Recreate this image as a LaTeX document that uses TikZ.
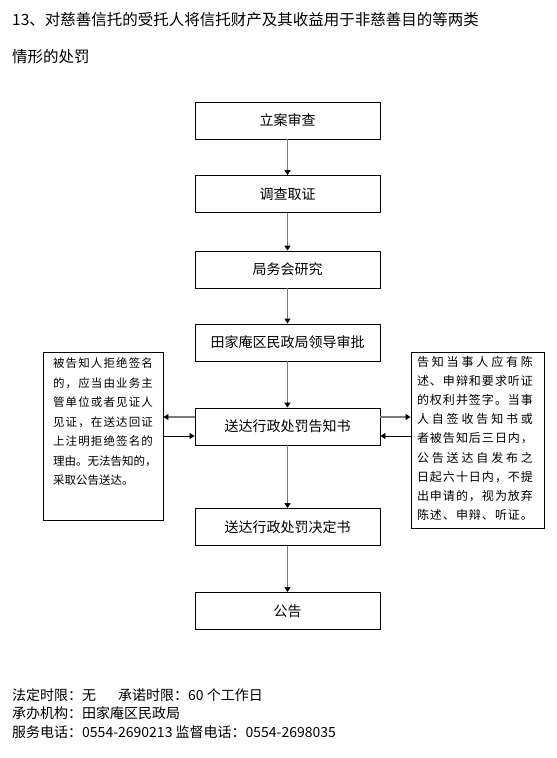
\documentclass[tikz,border=0pt]{standalone}
\usepackage{fontspec}
\newfontfamily\cjk{Noto Sans CJK SC}
\usetikzlibrary{arrows.meta}
\makeatletter
\newcommand\jline[2]{\makebox[#1][s]{\jl@a#2\@nil}}
\def\jl@a#1#2\@nil{#1\ifx\relax#2\relax\else\hfil\jl@a#2\@nil\fi}
\makeatother
\tikzset{
  mainbox/.style={draw=black, line width=0.9pt, minimum width=185pt, minimum height=37pt, inner sep=0pt,
    font=\cjk\fontsize{14}{17}\selectfont},
  sidebox/.style={draw=black, line width=0.9pt, inner sep=0pt},
  sidetext/.style={inner sep=0pt, align=left, anchor=north},
  plain/.style={inner sep=0pt, anchor=west, font=\cjk\fontsize{14}{17}\selectfont},
  garrow/.style={draw=gray!95!black, line width=1.6pt, -{Triangle[length=5pt,width=6pt,color=black]}},
  barrow/.style={draw=black, line width=0.9pt, -{Triangle[length=5pt,width=6pt,color=black]}},
}
\begin{document}
\begin{tikzpicture}[x=1pt,y=-1pt]
\useasboundingbox[fill=white] (0,0) rectangle (557,758);
% title
\node[plain, font=\cjk\fontsize{15.5}{18}\selectfont] (t1) at (12,20) {13、对慈善信托的受托人将信托财产及其收益用于非慈善目的等两类};
\node[plain, font=\cjk\fontsize{15.5}{18}\selectfont] (t2) at (12,57) {情形的处罚};
% main flow
\node[mainbox] (b1) at (287.5,120.5) {立案审查};
\node[mainbox] (b2) at (287.5,194) {调查取证};
\node[mainbox] (b3) at (287.5,269.5) {局务会研究};
\node[mainbox] (b4) at (287.5,342.5) {田家庵区民政局领导审批};
\node[mainbox] (b5) at (287.5,426.5) {送达行政处罚告知书};
\node[mainbox] (b6) at (287.5,527) {送达行政处罚决定书};
\node[mainbox] (b7) at (287.5,611) {公告};
% side boxes
\node[sidebox, minimum width=120pt, minimum height=168pt] (L) at (103,436) {};
\node[sidetext, font=\cjk\fontsize{11.5}{19.5}\selectfont] (Lt) at (103,358) {%
\jline{100pt}{被告知人拒绝签名}\\
\jline{100pt}{的，应当由业务主}\\
\jline{100pt}{管单位或者见证人}\\
\jline{100pt}{见证，在送达回证}\\
\jline{100pt}{上注明拒绝签名的}\\
\jline{100pt}{理由。无法告知的，}\\
采取公告送达。\hfill\null};
\node[sidebox, minimum width=133pt, minimum height=176pt] (R) at (477.5,440) {};
\node[sidetext, font=\cjk\fontsize{12}{19.15}\selectfont] (Rt) at (475,356) {%
\jline{116pt}{告知当事人应有陈}\\
\jline{116pt}{述、申辩和要求听证}\\
\jline{116pt}{的权利并签字。当事}\\
\jline{116pt}{人自签收告知书或}\\
\jline{116pt}{者被告知后三日内，}\\
\jline{116pt}{公告送达自发布之}\\
\jline{116pt}{日起六十日内，不提}\\
\jline{116pt}{出申请的，视为放弃}\\
\jline{116pt}{陈述、申辩、听证。}};
% vertical arrows
\draw[garrow] (b1) -- (b2);
\draw[garrow] (b2) -- (b3);
\draw[garrow] (b3) -- (b4);
\draw[garrow] (b4) -- (b5);
\draw[garrow] (b5) -- (b6);
\draw[garrow] (b6) -- (b7);
% horizontal arrows
\draw[garrow] ([yshift=9.5pt]b5.west) -- ([yshift=9.5pt]b5.west -| L.east);
\draw[barrow] ([yshift=-9.5pt]b5.west -| L.east) -- ([yshift=-9.5pt]b5.west);
\draw[garrow] ([yshift=9.5pt]b5.east) -- ([yshift=9.5pt]b5.east -| R.west);
\draw[barrow] ([yshift=-9.5pt]b5.east -| R.west) -- ([yshift=-9.5pt]b5.east);
% footer
\node[plain] (f1) at (12,695) {法定时限：无};
\node[plain] (f2) at (118,695) {承诺时限：60 个工作日};
\node[plain] (f3) at (12,713.5) {承办机构：田家庵区民政局};
\node[plain] (f4) at (12,732) {服务电话：0554-2690213 监督电话：0554-2698035};
\end{tikzpicture}
\end{document}
